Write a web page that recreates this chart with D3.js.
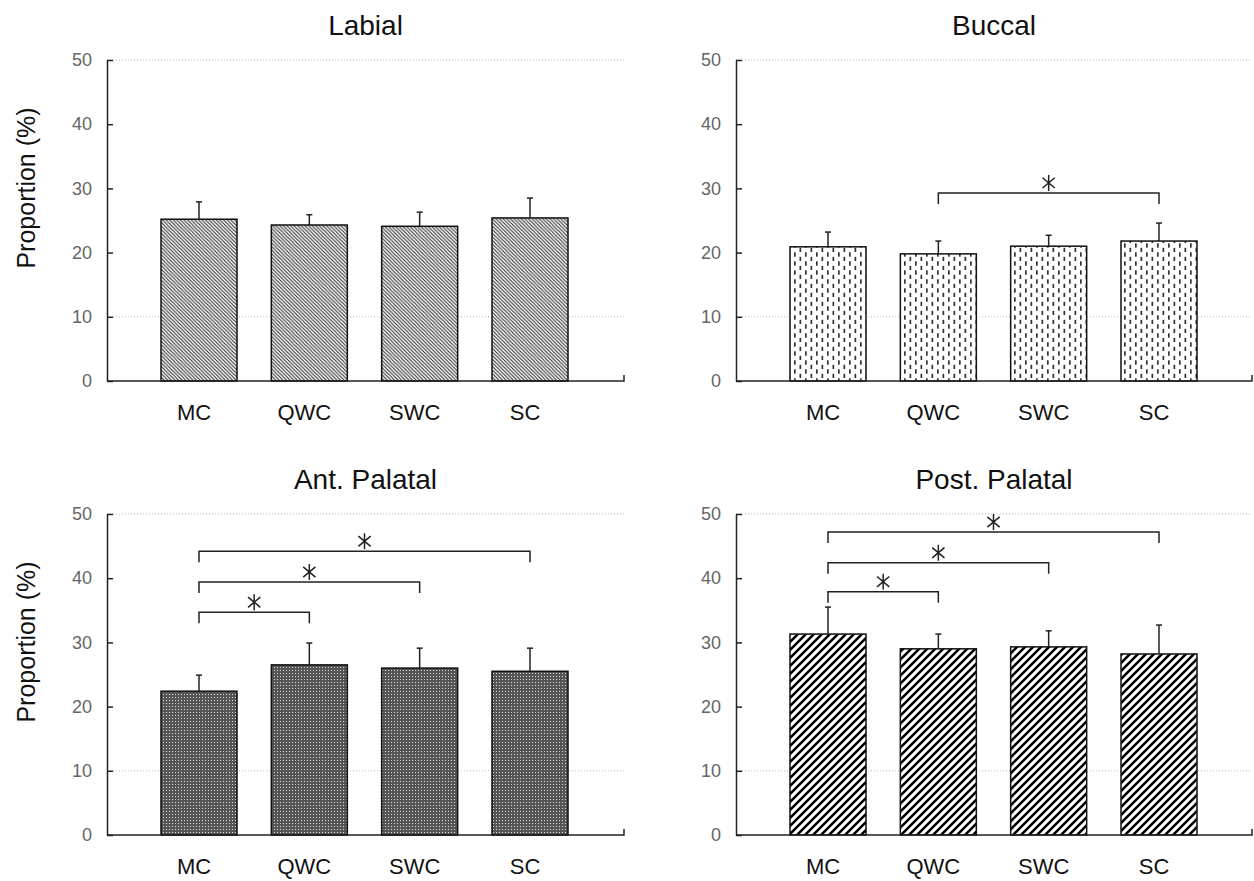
<!DOCTYPE html>
<html>
<head>
<meta charset="utf-8">
<script src="https://cdn.jsdelivr.net/npm/d3@7"></script>
<style>
  body { margin: 0; background: #fff; }
  svg { display: block; font-family: "Liberation Sans", Arial, sans-serif; }
</style>
</head>
<body>
<svg id="chart"></svg>
<script>
var width = 1254
var height = 881

// data
var categories = ["MC", "QWC", "SWC", "SC"]
var yTicks = [0, 10, 20, 30, 40, 50]
var gridValues = [10, 50]

var labialMean = [25.2, 24.3, 24.1, 25.4]
var labialErr = [2.7, 1.6, 2.2, 3.1]
var buccalMean = [20.9, 19.8, 21.0, 21.8]
var buccalErr = [2.3, 2.0, 1.7, 2.8]
var antMean = [22.4, 26.5, 26.0, 25.5]
var antErr = [2.5, 3.4, 3.1, 3.6]
var postMean = [31.3, 29.0, 29.3, 28.2]
var postErr = [4.2, 2.3, 2.5, 4.5]

// significance brackets: [from, to, level]
var buccalSig = [["QWC", "SC", 29.3]]
var antSig = [["MC", "QWC", 34.7], ["MC", "SWC", 39.4], ["MC", "SC", 44.2]]
var postSig = [["MC", "QWC", 37.9], ["MC", "SWC", 42.4], ["MC", "SC", 47.2]]

var panels = [
  {title: "Labial", mean: labialMean, err: labialErr, sig: [], pattern: "pLabial", left: 107, right: 624, bottom: 381, top: 60, ylabel: true},
  {title: "Buccal", mean: buccalMean, err: buccalErr, sig: buccalSig, pattern: "pBuccal", left: 736, right: 1252, bottom: 381, top: 60, ylabel: false},
  {title: "Ant. Palatal", mean: antMean, err: antErr, sig: antSig, pattern: "pAnt", left: 107, right: 624, bottom: 835, top: 514, ylabel: true},
  {title: "Post. Palatal", mean: postMean, err: postErr, sig: postSig, pattern: "pPost", left: 736, right: 1252, bottom: 835, top: 514, ylabel: false}
]

var svg = d3.select("#chart")
  .attr("width", width)
  .attr("height", height)

// fill patterns
var defs = svg.append("defs")

var p1 = defs.append("pattern").attr("id", "pLabial")
  .attr("patternUnits", "userSpaceOnUse").attr("width", 3.6).attr("height", 3.6)
p1.append("rect").attr("width", 3.6).attr("height", 3.6).attr("fill", "#fff")
p1.append("path").attr("d", "M-1,-1L4.6,4.6M2.6,-1L4.6,1M-1,2.6L1,4.6")
  .attr("stroke", "#2a2a2a").attr("stroke-width", 1.1)

var p2 = defs.append("pattern").attr("id", "pBuccal")
  .attr("patternUnits", "userSpaceOnUse").attr("width", 11).attr("height", 9)
p2.append("rect").attr("width", 11).attr("height", 9).attr("fill", "#fff")
p2.append("rect").attr("x", 2).attr("y", 0.3).attr("width", 1.7).attr("height", 4.4).attr("fill", "#333")
p2.append("rect").attr("x", 7.5).attr("y", 4.8).attr("width", 1.7).attr("height", 4.4).attr("fill", "#333")

var p3 = defs.append("pattern").attr("id", "pAnt")
  .attr("patternUnits", "userSpaceOnUse").attr("width", 3).attr("height", 3)
p3.append("rect").attr("width", 3).attr("height", 3).attr("fill", "#555")
p3.append("rect").attr("x", 1).attr("y", 1).attr("width", 1).attr("height", 1).attr("fill", "#ddd")

var p4 = defs.append("pattern").attr("id", "pPost")
  .attr("patternUnits", "userSpaceOnUse").attr("width", 8).attr("height", 8)
p4.append("rect").attr("width", 8).attr("height", 8).attr("fill", "#fff")
p4.append("path").attr("d", "M-1,9L9,-1M-3,3L3,-3M5,11L11,5")
  .attr("stroke", "#000").attr("stroke-width", 2.6)

function star(g, cx, cy) {
  var r = 8
  var d = ""
  ;[90, 40, 140].forEach(function(a) {
    var rad = a * Math.PI / 180
    var dx = r * Math.cos(rad), dy = r * Math.sin(rad)
    d += "M" + (cx - dx) + "," + (cy - dy) + "L" + (cx + dx) + "," + (cy + dy)
  })
  g.append("path").attr("d", d).attr("stroke", "#222").attr("stroke-width", 1.5).attr("fill", "none")
}

panels.forEach(function(p) {
  var g = svg.append("g")

  var x = d3.scalePoint()
    .domain(categories)
    .range([p.left + 92, p.left + 423])
  var y = d3.scaleLinear()
    .domain([0, 50])
    .range([p.bottom, p.top])
  var barW = 76

  // dotted grid lines
  g.selectAll(".grid")
    .data(gridValues)
    .enter()
    .append("line")
      .attr("x1", p.left).attr("x2", p.right)
      .attr("y1", d => y(d)).attr("y2", d => y(d))
      .attr("stroke", "#b4b8c8")
      .attr("stroke-width", 1)
      .attr("stroke-dasharray", "1,2")

  // bars
  g.selectAll(".bar")
    .data(p.mean)
    .enter()
    .append("rect")
      .attr("x", (d, i) => x(categories[i]) - barW / 2)
      .attr("y", d => y(d))
      .attr("width", barW)
      .attr("height", d => y(0) - y(d))
      .attr("fill", "url(#" + p.pattern + ")")
      .attr("stroke", "#111")
      .attr("stroke-width", 1.5)

  // error bars (upper only)
  p.mean.forEach(function(m, i) {
    var cx = x(categories[i])
    g.append("line")
      .attr("x1", cx).attr("x2", cx)
      .attr("y1", y(m)).attr("y2", y(m + p.err[i]))
      .attr("stroke", "#222").attr("stroke-width", 1.5)
    g.append("line")
      .attr("x1", cx - 3).attr("x2", cx + 3)
      .attr("y1", y(m + p.err[i])).attr("y2", y(m + p.err[i]))
      .attr("stroke", "#222").attr("stroke-width", 1.5)
  })

  // significance brackets
  p.sig.forEach(function(s) {
    var x1 = x(s[0]), x2 = x(s[1]), yy = y(s[2])
    g.append("path")
      .attr("d", "M" + x1 + "," + (yy + 11) + "V" + yy + "H" + x2 + "V" + (yy + 11))
      .attr("fill", "none")
      .attr("stroke", "#222")
      .attr("stroke-width", 1.5)
    star(g, (x1 + x2) / 2, yy - 10)
  })

  // y axis
  var yAxis = d3.axisLeft(y)
    .tickValues(yTicks)
    .tickSizeInner(-6)
    .tickSizeOuter(0)
    .tickPadding(15)
  var ya = g.append("g")
    .attr("transform", "translate(" + p.left + ",0)")
    .call(yAxis)
  ya.select(".domain").attr("stroke", "#222").attr("stroke-width", 1.5)
  ya.selectAll(".tick line").attr("stroke", "#222").attr("stroke-width", 1.5)
  ya.selectAll(".tick text")
    .attr("font-size", 18)
    .attr("fill", "#666")
    .attr("font-family", "Liberation Sans, Arial, sans-serif")

  // x axis line with end tick
  g.append("path")
    .attr("d", "M" + p.left + "," + p.bottom + "H" + p.right + "V" + (p.bottom - 6))
    .attr("fill", "none")
    .attr("stroke", "#222")
    .attr("stroke-width", 1.5)

  // category labels
  g.selectAll(".cat")
    .data(categories)
    .enter()
    .append("text")
      .attr("x", d => x(d) - 5)
      .attr("y", p.bottom + 39)
      .attr("text-anchor", "middle")
      .attr("font-size", 22)
      .attr("fill", "#111")
      .text(d => d)

  // title
  g.append("text")
    .attr("x", (p.left + p.right) / 2)
    .attr("y", p.top - 25)
    .attr("text-anchor", "middle")
    .attr("font-size", 28)
    .attr("fill", "#111")
    .text(p.title)

  if (p.ylabel) {
    g.append("text")
      .attr("transform", "translate(" + 35 + "," + (p.top + 128) + ") rotate(-90)")
      .attr("text-anchor", "middle")
      .attr("font-size", 25)
      .attr("fill", "#111")
      .text("Proportion (%)")
  }
})
</script>
</body>
</html>
